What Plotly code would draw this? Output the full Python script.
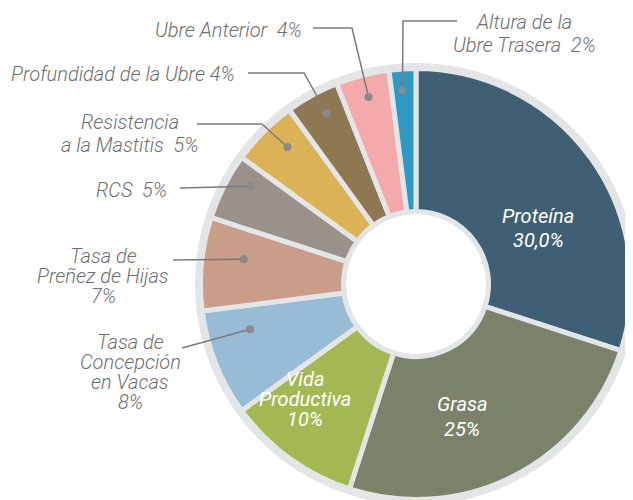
import math
import plotly.graph_objects as go

W, H = 633, 500
OFF = 8  # page body margin: screen pixel = figure pixel + OFF

# data
categories = ["Proteína", "Grasa", "Vida Productiva", "Tasa de Concepción en Vacas",
              "Tasa de Preñez de Hijas", "RCS", "Resistencia a la Mastitis",
              "Profundidad de la Ubre", "Ubre Anterior", "Altura de la Ubre Trasera"]
values = [30, 25, 10, 8, 7, 5, 5, 4, 4, 2]
label_lines = [
    ["Proteína", "30,0%"],
    ["Grasa", "25%"],
    ["Vida", "Productiva", "10%"],
    ["Tasa de", "Concepción", "en Vacas", "8%"],
    ["Tasa de", "Preñez de Hijas", "7%"],
    ["RCS\u00a0\u00a05%"],
    ["Resistencia", "a la Mastitis\u00a0\u00a05%"],
    ["Profundidad de la Ubre 4%"],
    ["Ubre Anterior\u00a0\u00a04%"],
    ["Altura de la", "Ubre Trasera\u00a0\u00a02%"],
]

colors = ["#3f5f75", "#7a8269", "#a3b853", "#98bbd6", "#c99d87",
          "#9b918b", "#dcb257", "#8f7752", "#f4a9ab", "#2e9ac3"]
ring = "#e4e5e7"
grey_txt = "#6e6e70"

# geometry in screen pixels
cx, cy = 416, 284
r_back, r_front = 221, 215.5

# label layout: (x centre, y of first line, line step, inside?)
label_pos = [
    (538, 216, 24, True),
    (462, 404, 25, True),
    (305, 379, 20, True),
    (130, 342, 20, False),
    (103, 256, 20, False),
    (131, 190, 20, False),
    (130, 122, 23, False),
    (123, 74, 20, False),
    (228, 30, 20, False),
    (524, 22, 23, False),
]
# connector: start point, optional elbow, dot radius, dot position within slice
connectors = {
    3: ((182, 348), None, 172, 0.72),
    4: ((173, 260), None, 174, 0.61),
    5: ((180, 188), None, 192, 0.70),
    6: ((197, 124), (262, 124), 188, 0.60),
    7: ((248, 73), (304, 73), 193, 0.58),
    8: ((313, 28), (352, 28), 193, 0.51),
    9: ((457, 21), (403, 21), 194, 0.44),
}


def dom(r):
    fx, fy = cx - OFF, cy - OFF
    return dict(x=[(fx - r) / W, (fx + r) / W],
                y=[(H - fy - r) / H, (H - fy + r) / H])


fig = go.Figure()
fig.add_trace(go.Scatter(x=[], y=[], showlegend=False, hoverinfo="skip"))
fig.add_trace(go.Pie(values=[1], marker=dict(colors=[ring]), hole=70 / r_back,
                     domain=dom(r_back), textinfo="none", hoverinfo="skip",
                     showlegend=False, automargin=False))
fig.add_trace(go.Pie(labels=categories, values=values, sort=False,
                     direction="clockwise", rotation=0, hole=72.5 / r_front,
                     domain=dom(r_front), textinfo="none", showlegend=False,
                     automargin=False,
                     marker=dict(colors=colors, line=dict(color=ring, width=5))))

total = sum(values)
cum = 0
shapes = []
annotations = []
for i, v in enumerate(values):
    start_frac = cum / total
    cum += v
    x0, y0, step, inside = label_pos[i]
    for j, line in enumerate(label_lines[i]):
        annotations.append(dict(
            x=x0, y=y0 + j * step, xref="x", yref="y", text=line,
            showarrow=False, xanchor="center", yanchor="middle",
            font=dict(family="Roboto", size=20, style="italic",
                      weight=400 if inside else 300,
                      color="white" if inside else grey_txt)))
    if i in connectors:
        start, elbow, rd, f = connectors[i]
        ang = 2 * math.pi * (start_frac + f * v / total)
        dx = cx + rd * math.sin(ang)
        dy = cy - rd * math.cos(ang)
        path = f"M {start[0]},{start[1]}"
        if elbow:
            path += f" L {elbow[0]},{elbow[1]}"
        path += f" L {dx:.1f},{dy:.1f}"
        shapes.append(dict(type="path", path=path, xref="x", yref="y",
                           line=dict(color="#7b7b7d", width=1.5)))
        shapes.append(dict(type="circle", xref="x", yref="y",
                           x0=dx - 4, x1=dx + 4, y0=dy - 4, y1=dy + 4,
                           fillcolor="#8a8a8c", line=dict(width=0)))

fig.update_layout(
    width=W, height=H, margin=dict(l=0, r=0, t=0, b=0),
    paper_bgcolor="white", plot_bgcolor="rgba(0,0,0,0)",
    xaxis=dict(range=[OFF, W + OFF], visible=False, fixedrange=True),
    yaxis=dict(range=[H + OFF, OFF], visible=False, fixedrange=True),
    shapes=shapes, annotations=annotations,
)
fig.write_html("out.html")
